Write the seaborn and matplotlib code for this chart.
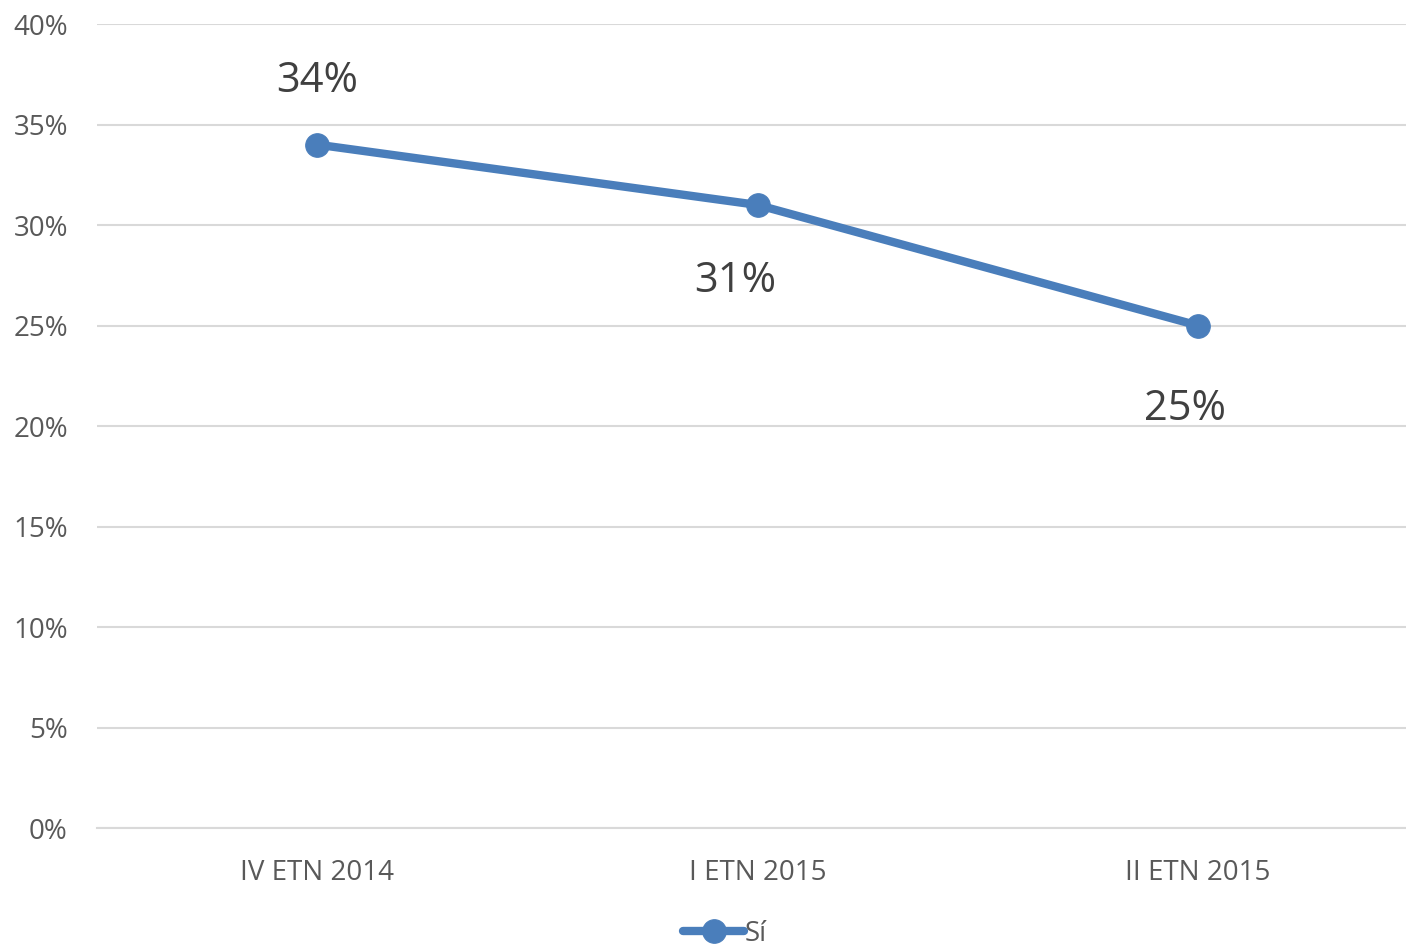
import matplotlib
matplotlib.use("Agg")
import matplotlib.pyplot as plt
import seaborn as sns
import pandas as pd

# data
periods = ["IV ETN 2014", "I ETN 2015", "II ETN 2015"]
si_values = [0.34, 0.31, 0.25]
label_offsets = [(0, 46), (-16, -55), (-9, -60)]  # label offsets in points

df = pd.DataFrame({"Periodo": periods, "Sí": si_values})

sns.set_style("white")
plt.rcParams["font.family"] = ["Open Sans", "DejaVu Sans"]

fig = plt.figure(figsize=(14.06, 9.46), dpi=100)
ax = fig.add_axes([0.069, 0.1247, 0.9396, 0.8499])

blue = "#4a7ebb"
sns.lineplot(data=df, x="Periodo", y="Sí", ax=ax, color=blue, linewidth=6,
             marker="o", markersize=17, markeredgecolor=blue, label="Sí",
             sort=False)

for i, (p, v) in enumerate(zip(periods, si_values)):
    ax.annotate(f"{round(v * 100)}%", (i, v), xytext=label_offsets[i],
                textcoords="offset points", ha="center", va="center",
                fontsize=30, color="#404040")

ax.set_xlim(-0.5, 2.5)
ax.set_ylim(0, 0.40)
ax.set_yticks([i / 100 for i in range(0, 41, 5)])
ax.set_yticklabels([f"{i}%" for i in range(0, 41, 5)])
ax.grid(axis="y", color="#d9d9d9", linewidth=1.5)
ax.set_axisbelow(True)
ax.set_xlabel("")
ax.set_ylabel("")
for s in ["top", "right", "left"]:
    ax.spines[s].set_visible(False)
ax.spines["bottom"].set_color("#d9d9d9")
ax.spines["bottom"].set_linewidth(1.5)
ax.tick_params(axis="both", length=0, labelsize=20, colors="#595959")
ax.tick_params(axis="x", pad=22)
ax.tick_params(axis="y", pad=21)

handles, labels = ax.get_legend_handles_labels()
ax.get_legend().remove()
leg = fig.legend(handles, labels, loc="center", bbox_to_anchor=(725 / 1406, 0.013),
                 frameon=False, fontsize=20, handlelength=2.2, handletextpad=0.0,
                 borderpad=0.0)
for t in leg.get_texts():
    t.set_color("#595959")

fig.savefig("out.png", dpi=100)
